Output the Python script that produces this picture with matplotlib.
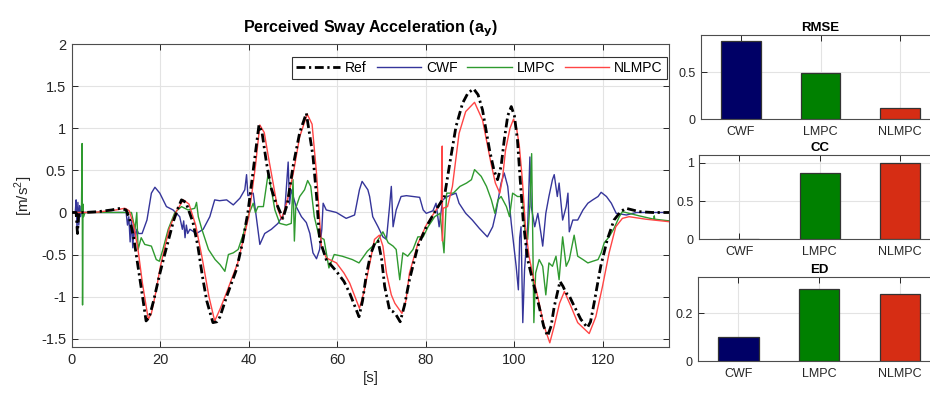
import numpy as np
import matplotlib
matplotlib.use("Agg")
import matplotlib.pyplot as plt
from matplotlib.ticker import FormatStrFormatter

plt.rcParams['font.family'] = ['Liberation Sans', 'DejaVu Sans']

# ---- time series (t in s, value in m/s^2) ----
ref_t = [0, 1.0, 1.3, 1.6, 3, 6, 9, 11, 12.3, 13.2, 14, 15, 16, 16.8, 17.5, 18.5, 19.8, 21, 22, 23,
         24, 24.8, 25.8, 27.4, 28.5, 29.5, 30.5, 31.9, 32.8, 33.5, 35, 37.2, 38.5, 39.8, 41, 42.3,
         43, 44, 45, 45.9, 47.7, 48.7, 50, 51.5, 53, 54.5, 55.3, 56, 57.5, 59.8, 61.5, 62.8, 64.0,
         64.9, 65.7, 66.5, 67.5, 68.5, 69.2, 70, 70.7, 71.8, 72.6, 73.3, 74.2, 75.2, 76.3, 78.2,
         80.1, 82.3, 84.2, 85.3, 86.8, 88.3, 89.5, 90.8, 91.8, 92.8, 94.4, 95.4, 96.2, 97.0, 97.7,
         98.5, 99.3, 100.0, 100.7, 101.3, 102, 103, 104.1, 105.6, 106.6, 107.5, 108.3, 109, 110.3,
         111.0, 111.7, 112.3, 113.2, 115, 116.5, 117.2, 118, 119.5, 121, 122.5, 124, 125.2, 128.2,
         131.2, 135]
ref_y = [0, 0, -0.25, 0, 0, 0.01, 0.03, 0.05, 0.03, -0.1, -0.3, -0.65, -1.0, -1.29, -1.25, -1.05,
         -0.75, -0.5, -0.3, -0.1, 0.05, 0.15, 0.12, -0.12, -0.4, -0.75, -1.05, -1.31, -1.3, -1.24,
         -1.0, -0.68, -0.38, 0.0, 0.5, 1.04, 0.95, 0.59, 0.3, 0.15, -0.07, 0.1, 0.55, 0.95, 1.18,
         0.67, 0.2, -0.32, -0.56, -0.7, -0.82, -0.96, -1.12, -1.24, -1.05, -0.76, -0.5, -0.36,
         -0.34, -0.55, -0.88, -1.16, -1.18, -1.22, -1.30, -1.1, -0.8, -0.4, -0.17, 0.03, 0.19,
         0.55, 1.02, 1.30, 1.42, 1.47, 1.40, 1.22, 0.74, 0.5, 0.39, 0.55, 0.86, 1.15, 1.26, 1.15,
         0.86, 0.4, -0.1, -0.56, -0.8, -1.12, -1.35, -1.47, -1.35, -1.12, -0.82, -0.88, -0.96,
         -0.98, -1.08, -1.27, -1.37, -1.3, -1.08, -0.64, -0.32, -0.09, 0.01, 0.05, 0.01, 0.0, 0.0]

cwf_t = [0, 0.8, 1.0, 1.2, 1.4, 1.6, 1.8, 2.0, 2.3, 2.6, 4, 8, 11, 12.3, 12.6, 12.9, 13.2, 13.5,
         13.8, 14.1, 14.4, 14.7, 15.1, 15.9, 17, 18, 18.8, 19.9, 21.4, 22.9, 24.4, 25.0, 25.3,
         25.6, 25.9, 26.2, 26.7, 28.2, 29.7, 31.2, 32.3, 33.4, 35, 36.5, 38, 39.1, 39.5, 39.8, 41,
         41.7, 42.5, 43.6, 45.1, 46.6, 48.1, 48.9, 49.2, 49.6, 50.7, 51.9, 53, 53.8, 54.5, 55.3,
         56, 56.5, 56.8, 57.5, 59.8, 62, 63.9, 65, 65.6, 66.9, 67.3, 68, 69.2, 70.3, 71.1, 71.8,
         72.2, 72.6, 73.3, 74.4, 75.6, 77.1, 78.6, 79.4, 80.1, 81.6, 82.3, 83, 83.8, 84.9, 86.8,
         87.5, 89, 90.5, 92.1, 93.9, 95.1, 95.8, 97, 97.7, 98.5, 99.3, 100.4, 100.9, 101.2, 101.5,
         101.9, 102.3, 103, 103.5, 103.8, 104.6, 105.3, 106, 106.4, 107.1, 107.8, 108.6, 109,
         109.7, 110.1, 110.9, 111.7, 112.1, 112.4, 113.2, 114.3, 115.5, 116.6, 117.7, 118.9,
         119.6, 120.8, 121.9, 123, 124.2, 125.3, 127.6, 135]
cwf_y = [0, 0, 0.15, -0.2, 0.12, -0.15, 0.08, -0.05, 0.02, 0, 0, 0, 0, 0, -0.15, -0.05, -0.35,
         -0.1, -0.42, -0.15, -0.3, -0.2, -0.25, -0.25, -0.09, 0.23, 0.30, 0.23, 0.07, 0.03, -0.05,
         -0.2, -0.1, -0.3, -0.15, -0.25, -0.2, -0.25, -0.2, -0.05, 0.15, 0.14, 0.15, 0.09, 0.17,
         0.27, 0.45, 0.2, 0.23, -0.05, -0.38, -0.25, -0.2, -0.13, 0.0, 0.6, 0.1, 0.27, 0.07, -0.05,
         -0.12, -0.25, -0.48, -0.55, -0.44, -0.2, 0.11, 0.03, 0.0, -0.07, -0.03, 0.27, 0.37, 0.27,
         0.19, -0.05, -0.17, -0.29, -0.32, 0.07, 0.31, -0.17, 0.03, 0.19, 0.2, 0.19, 0.18, 0.03,
         -0.01, 0.02, 0.11, -0.17, 0.15, 0.19, 0.23, 0.11, -0.01, -0.09, -0.19, -0.29, -0.17,
         -0.01, 0.35, 0.47, 0.31, -0.13, -0.64, -0.92, -0.3, -0.17, -1.31, -0.68, -0.17, 0.66,
         0.07, -0.17, -0.01, -0.25, -0.40, -0.01, 0.19, 0.39, 0.45, 0.19, 0.35, -0.09, 0.07, 0.23,
         -0.23, -0.09, -0.09, 0.03, 0.11, 0.15, 0.19, 0.24, 0.19, 0.11, -0.01, -0.02, -0.03, 0.0,
         0.0]

lmpc_t = [0, 2.2, 2.35, 2.45, 2.55, 2.7, 3.0, 6, 10, 13.5, 14.3, 14.7, 15, 15.7, 16.5, 18, 19.1,
          19.8, 20.6, 21.8, 23.3, 24.8, 26.3, 27.8, 28.2, 28.6, 29.4, 30.9, 32.4, 33.5, 34.6, 35.4,
          36.5, 37.6, 38.8, 39.8, 41, 41.5, 42.1, 43.3, 44.4, 45.1, 45.9, 47, 48.5, 49.6, 50.0,
          50.3, 50.6, 51.5, 52.6, 53.3, 54, 54.8, 55.9, 57, 58.1, 59.3, 61.1, 63.4, 64.9, 66, 66.8,
          68.0, 68.8, 70.3, 71.5, 72.6, 73.3, 74.1, 74.8, 75.9, 77.1, 78.2, 79.4, 80.5, 82, 83.2,
          84.1, 84.7, 86.2, 87.7, 89.2, 90.3, 91.0, 92.5, 93.7, 94.8, 95.6, 96.3, 97, 98.2, 98.9,
          99.6, 100.7, 101.8, 102.5, 103, 103.5, 103.9, 104.2, 104.4, 104.8, 105.6, 106.4, 107.1,
          107.8, 108.6, 109.4, 110.1, 110.9, 111.7, 112.4, 113.5, 114.3, 115.5, 116.6, 117.7,
          118.9, 119.6, 120.3, 121.4, 122.5, 123.7, 124.4, 125.9, 128.2, 131.5, 131.6, 131.7, 135]
lmpc_y = [0, 0, 0.82, -1.1, 0.1, -0.05, 0, 0, 0, 0, -0.2, 0.0, -0.44, -0.30, -0.38, -0.40, -0.56,
          -0.58, -0.44, -0.20, 0.0, 0.07, 0.03, 0.05, 0.12, -0.05, -0.2, -0.44, -0.56, -0.62,
          -0.70, -0.5, -0.48, -0.44, -0.25, -0.05, 0.11, 0.0, 0.07, 0.07, 0.47, 0.27, 0.03, -0.13,
          -0.15, -0.13, 0.39, -0.34, 0.05, 0.19, 0.27, 0.38, 0.31, -0.05, -0.29, -0.32, -0.66,
          -0.50, -0.52, -0.56, -0.60, -0.52, -0.46, -0.40, -0.36, -0.23, -0.36, -0.40, -0.44,
          -0.80, -0.48, -0.52, -0.44, -0.29, -0.29, -0.17, -0.05, -0.01, -0.48, 0.23, 0.23, 0.31,
          0.35, 0.39, 0.51, 0.43, 0.31, 0.15, -0.01, 0.15, 0.19, 0.07, -0.05, 0.23, 0.19, 0.19,
          -0.3, -0.32, 0.1, 0.70, -0.5, -1.31, -0.72, -0.56, -0.64, -0.98, -0.6, -0.64, -0.52,
          -0.80, -0.29, -0.64, -0.56, -0.27, -0.52, -0.56, -0.60, -0.58, -0.56, -0.48, -0.36,
          -0.29, -0.19, -0.05, 0.01, -0.01, -0.04, -0.08, -0.04, -0.08, -0.1]

nlmpc_t = [0, 5, 10, 12, 13, 14, 15, 16, 17.3, 18, 19, 20, 21, 22, 23.5, 25.2, 26.5, 28, 29.5, 31,
           32.3, 33.5, 35, 37.5, 40, 41.5, 42.5, 43.5, 44.4, 45.5, 46.5, 47.4, 48.5, 50, 51.5,
           53.2, 54.3, 55.3, 56.4, 57.5, 59.8, 61.5, 62.8, 65, 66, 66.9, 68.4, 69.5, 70.3, 71.1,
           72.2, 73, 74.6, 75.5, 76.3, 78.2, 80.1, 82.3, 83.5, 83.7, 83.75, 83.9, 84.9, 86.0, 87.5,
           89, 91, 92.8, 94.7, 95.7, 96.7, 97.3, 98.0, 99.0, 99.8, 100.5, 101.1, 101.8, 102.5,
           103.3, 104.4, 105.6, 106.7, 108, 109, 110.2, 111.3, 112.8, 114.3, 116.9, 118.4, 119.9,
           121.4, 122.9, 124.4, 125.9, 129.7, 135]
nlmpc_y = [0, 0, 0.03, 0.05, 0.02, -0.15, -0.45, -0.85, -1.27, -1.2, -0.95, -0.65, -0.42, -0.2,
           0.0, 0.15, 0.1, -0.15, -0.55, -1.0, -1.29, -1.15, -0.95, -0.6, -0.05, 0.55, 1.04, 0.95,
           0.67, 0.35, 0.05, -0.08, 0.1, 0.45, 0.9, 1.17, 1.05, 0.47, -0.40, -0.54, -0.60, -0.72,
           -0.84, -1.14, -0.95, -0.72, -0.32, -0.27, -0.4, -0.72, -0.98, -1.08, -1.2, -1.05, -0.72,
           -0.37, -0.15, 0.03, 0.12, 0.79, -0.34, 0.05, 0.07, 0.31, 0.94, 1.2, 1.31, 1.10, 0.59,
           0.35, 0.23, 0.4, 0.74, 1.0, 1.11, 1.0, 0.8, 0.39, -0.17, -0.52, -0.8, -1.08, -1.35,
           -1.55, -1.35, -1.08, -0.94, -1.12, -1.31, -1.44, -1.24, -0.88, -0.48, -0.17, -0.07,
           -0.05, -0.08, -0.11]

# ---- metrics ----
methods = ['CWF', 'LMPC', 'NLMPC']
rmse = [0.835, 0.494, 0.115]
cc = [0.0, 0.863, 0.995]
ed = [0.098, 0.30, 0.281]

line_cols = {'CWF': '#35359a', 'LMPC': '#2f9a2f', 'NLMPC': '#ff4545'}
bar_cols = ['#000066', '#008000', '#d62d14']
axcol = '#262626'


def style_axes(ax, fs):
    ax.tick_params(direction='in', top=True, right=True, length=4, width=0.7,
                   colors=axcol, labelsize=fs, pad=4)
    ax.grid(True, color='#e3e3e3', linewidth=0.8)
    ax.set_axisbelow(True)
    for s in ax.spines.values():
        s.set_color('#4d4d4d')
        s.set_linewidth(0.8)


fig = plt.figure(figsize=(9.30, 3.95), dpi=100)

# main time series panel
ax = fig.add_axes([0.0771, 0.1215, 0.6426, 0.7663])
ax.plot(ref_t, ref_y, color='k', linestyle='-.', dashes=[3.2, 1.3, 0.8, 1.3], linewidth=2.0,
        label='Ref', zorder=5)
ax.plot(cwf_t, cwf_y, color=line_cols['CWF'], linewidth=1.0, label='CWF')
ax.plot(lmpc_t, lmpc_y, color=line_cols['LMPC'], linewidth=1.0, label='LMPC')
ax.plot(nlmpc_t, nlmpc_y, color=line_cols['NLMPC'], linewidth=1.0, label='NLMPC', zorder=4)
ax.set_xlim(0, 135)
ax.set_ylim(-1.6, 2)
ax.set_xticks(np.arange(0, 121, 20))
ax.set_yticks(np.arange(-1.5, 2.01, 0.5))
ax.yaxis.set_major_formatter(FormatStrFormatter('%g'))
style_axes(ax, 10.5)
ax.set_xlabel('[s]', fontsize=11, color=axcol, labelpad=3)
ax.set_ylabel('[m/s$^\\mathregular{2}$]', fontsize=11, color=axcol, labelpad=4)
ax.set_title('Perceived Sway Acceleration (a$_\\mathbf{y}$)', fontsize=11.5, fontweight='bold',
             pad=9)
leg = ax.legend(loc='upper right', bbox_to_anchor=(0.996, 0.958), ncol=4, fontsize=10,
                frameon=True, fancybox=False, edgecolor='k', handlelength=3.2,
                handletextpad=0.35, columnspacing=0.7, borderpad=0.3, borderaxespad=0)
leg.get_frame().set_linewidth(0.8)

# metric bar panels
x = np.arange(1, 4)
panels = [
    ('RMSE', rmse, [701, 35, 119], (0, 0.9), [0, 0.5]),
    ('CC', cc, [699.3, 155.3, 239.3], (0, 1.1), [0, 0.5, 1]),
    ('ED', ed, [698, 277, 361], (0, 0.35), [0, 0.2]),
]
for title, vals, (left, top, bottom), ylim, yt in panels:
    l = left / 930
    b = 1 - bottom / 395
    h = (bottom - top) / 395
    w = 940 / 930 - l
    bx = fig.add_axes([l, b, w, h])
    bx.bar(x, vals, width=0.5, color=bar_cols, edgecolor='#333333', linewidth=0.9, zorder=3)
    bx.set_xlim(0.5, 3.5)
    bx.set_ylim(*ylim)
    bx.set_xticks(x)
    bx.set_xticklabels(methods)
    bx.set_yticks(yt)
    bx.yaxis.set_major_formatter(FormatStrFormatter('%g'))
    style_axes(bx, 9)
    bx.tick_params(axis='x', pad=5)
    bx.set_title(title, fontsize=9.5, fontweight='bold', pad=3)

fig.savefig('out.png', dpi=100)
